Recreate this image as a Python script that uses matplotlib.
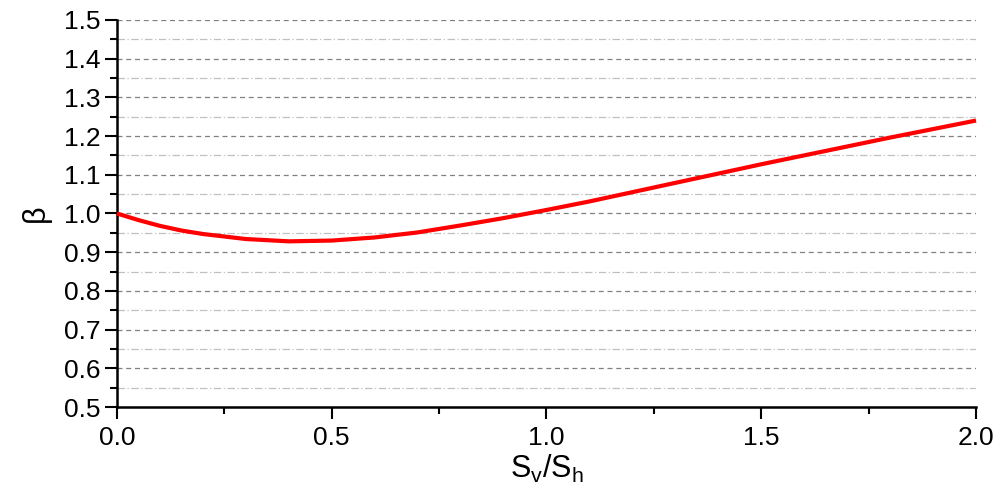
import matplotlib.pyplot as plt
from matplotlib.ticker import MultipleLocator

plt.rcParams['font.family'] = ['Liberation Sans', 'DejaVu Sans']
plt.rcParams['mathtext.fontset'] = 'custom'
plt.rcParams['mathtext.rm'] = 'Liberation Sans'
plt.rcParams['mathtext.it'] = 'Liberation Sans'

# S_v/S_h ratio and beta
ratio = [0.0, 0.05, 0.1, 0.15, 0.2, 0.3, 0.4, 0.5, 0.6, 0.7, 0.8, 0.9, 1.0,
         1.1, 1.2, 1.3, 1.4, 1.5, 1.6, 1.7, 1.8, 1.9, 2.0]
beta = [1.000, 0.983, 0.968, 0.956, 0.947, 0.934, 0.928, 0.930, 0.938, 0.951, 0.969, 0.988, 1.009,
        1.031, 1.055, 1.079, 1.103, 1.127, 1.150, 1.173, 1.196, 1.218, 1.240]

fig = plt.figure(figsize=(9.99, 4.97), dpi=100)
ax = fig.add_axes([0.117, 0.181, 0.860, 0.779])

ax.plot(ratio, beta, color='#ff0000', lw=3.0, solid_capstyle='butt', zorder=3, clip_on=False)

ax.set_xlim(0, 2.0)
ax.set_ylim(0.5, 1.5)
ax.xaxis.set_major_locator(MultipleLocator(0.5))
ax.xaxis.set_minor_locator(MultipleLocator(0.25))
ax.yaxis.set_major_locator(MultipleLocator(0.1))
ax.yaxis.set_minor_locator(MultipleLocator(0.05))
ax.xaxis.set_major_formatter(plt.FormatStrFormatter('%.1f'))
ax.yaxis.set_major_formatter(plt.FormatStrFormatter('%.1f'))

ax.grid(axis='y', which='major', color='#808080', ls=(0, (4, 3)), lw=0.9)
ax.grid(axis='y', which='minor', color='#c0c0c0', ls=(0, (6, 2, 1, 2)), lw=0.9)
ax.set_axisbelow(True)

for s in ['top', 'right']:
    ax.spines[s].set_visible(False)
for s in ['left', 'bottom']:
    ax.spines[s].set_linewidth(1.8)

ax.tick_params(which='major', direction='out', length=8.5, width=1.5, labelsize=19, pad=3)
ax.tick_params(which='minor', direction='out', length=5, width=1.5)
ax.tick_params(axis='x', which='major', pad=5)

ax.set_xlabel('$\\mathregular{S_v/S_h}$', fontsize=22, labelpad=2)
ax.set_ylabel('β', fontsize=22, labelpad=10)

fig.savefig('out.png', dpi=100)
